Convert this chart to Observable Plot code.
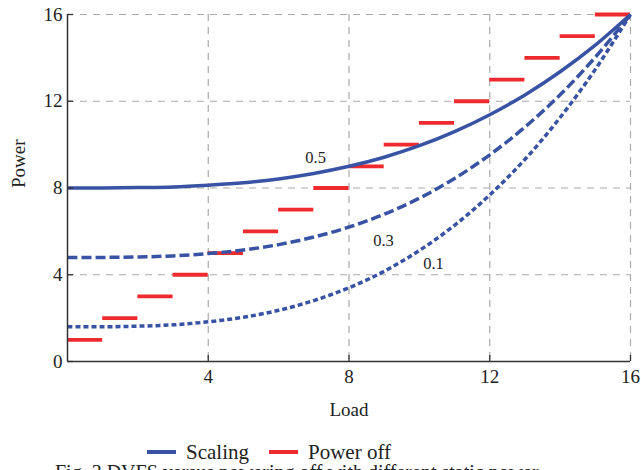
<!DOCTYPE html>
<html>
<head>
<meta charset="utf-8">
<script src="https://cdn.jsdelivr.net/npm/d3@7"></script>
<script src="https://cdn.jsdelivr.net/npm/@observablehq/plot@0.6"></script>
<style>
  html, body { margin: 0; padding: 0; background: #fff; overflow: hidden; }
  #wrap { position: relative; width: 641px; height: 470px; overflow: hidden; font-family: "Liberation Serif", serif; }
  #legend { position: absolute; left: 147px; top: 439px; height: 26px; display: flex; align-items: center; font-size: 21px; line-height: 1; color: #222; }
  .sw { display: inline-block; width: 29px; height: 4px; margin-right: 10px; }
  .item { display: flex; align-items: center; margin-right: 20px; }
  #caption { position: absolute; left: 55px; top: 462px; font-size: 20px; line-height: 1; color: #222; white-space: nowrap; }
</style>
</head>
<body>
<div id="wrap">
  <div id="chart"></div>
  <div id="legend">
    <span class="item"><span class="sw" style="background:#3953a4"></span>Scaling</span>
    <span class="item"><span class="sw" style="background:#ee2a2f"></span>Power off</span>
  </div>
  <div id="caption">Fig. 3 DVFS versus powering off with different static power</div>
</div>
<script>
// Data
const load = [0, 1, 2, 3, 4, 5, 6, 7, 8, 9, 10, 11, 12, 13, 14, 15, 16];
const scaling05 = [8.0, 8.0, 8.02, 8.05, 8.13, 8.24, 8.42, 8.67, 9.0, 9.42, 9.95, 10.6, 11.38, 12.29, 13.36, 14.59, 16.0];
const scaling03 = [4.8, 4.8, 4.82, 4.87, 4.98, 5.14, 5.39, 5.74, 6.2, 6.79, 7.53, 8.44, 9.53, 10.81, 12.3, 14.03, 16.0];
const scaling01 = [1.6, 1.6, 1.63, 1.69, 1.83, 2.04, 2.36, 2.81, 3.4, 4.16, 5.12, 6.28, 7.68, 9.32, 11.25, 13.47, 16.0];
const powerOffStart = [0, 1, 2, 3, 4, 5, 6, 7, 8, 9, 10, 11, 12, 13, 14, 15];
const powerOffEnd   = [1, 2, 3, 4, 5, 6, 7, 8, 9, 10, 11, 12, 13, 14, 15, 16];
const powerOffLevel = [1, 2, 3, 4, 5, 6, 7, 8, 9, 10, 11, 12, 13, 14, 15, 16];
const xTicks = [4, 8, 12, 16];
const yTicks = [0, 4, 8, 12, 16];
const curveLabels = ["0.5", "0.3", "0.1"];
const curveLabelX = [7.05, 8.98, 10.4];
const curveLabelY = [9.4, 5.58, 4.52];

const blue = "#3953a4";
const red = "#ee2a2f";

const series = [
  {values: scaling05, dash: null},
  {values: scaling03, dash: "10,4"},
  {values: scaling01, dash: "5,3"}
];
const offRows = powerOffLevel.map((y, i) => ({x1: powerOffStart[i], x2: powerOffEnd[i], y}));
const labelRows = curveLabels.map((t, i) => ({t, x: curveLabelX[i], y: curveLabelY[i]}));

const W = 641, H = 438, mt = 14, mb = 77, ml = 67, mr = 11;
const innerH = H - mt - mb, innerW = W - ml - mr;
const tickPx = 6;
const tickLenY = tickPx * 16 / innerH;  // inward tick length in data units (derived from scale size)
const tickLenX = tickPx * 16 / innerW;

const marks = [
  Plot.ruleX(xTicks, {x: d => d, stroke: "#aaa", strokeWidth: 1.2, strokeDasharray: "7,6"}),
  Plot.ruleY(yTicks.filter(d => d > 0), {y: d => d, stroke: "#aaa", strokeWidth: 1.2, strokeDasharray: "7,6"}),
  Plot.ruleY(offRows, {y: "y", x1: "x1", x2: "x2", stroke: red, strokeWidth: 3.8, strokeLinecap: "butt"}),
  ...series.map(s => Plot.line(load.map((x, i) => ({x, y: s.values[i]})), {
    x: "x", y: "y", curve: "catmull-rom", stroke: blue, strokeWidth: 3.5,
    strokeDasharray: s.dash, strokeLinecap: "butt"
  })),
  Plot.text(labelRows, {x: "x", y: "y", text: "t", fontSize: 16.5, fill: "#222"}),
  // inward ticks
  Plot.ruleX(xTicks, {x: d => d, y1: 0, y2: tickLenY, stroke: "#333", strokeWidth: 1.3}),
  Plot.ruleY(yTicks, {y: d => d, x1: 0, x2: tickLenX, stroke: "#333", strokeWidth: 1.3}),
  Plot.ruleX([0], {stroke: "#333", strokeWidth: 1.5}),
  Plot.ruleY([0], {stroke: "#333", strokeWidth: 1.5}),
  Plot.axisX(xTicks, {tickSize: 0, tickPadding: 8, fontSize: 19, label: null, fill: "#222"}),
  Plot.axisY(yTicks, {tickSize: 0, tickPadding: 5, fontSize: 19, label: null, fill: "#222"}),
  Plot.text(["Load"], {frameAnchor: "bottom", dy: 54, fontSize: 19, fill: "#222"}),
  Plot.text(["Power"], {frameAnchor: "left", dx: -49, rotate: -90, fontSize: 19, fill: "#222"})
];

const chart = Plot.plot({
  width: W, height: H,
  marginTop: mt, marginBottom: mb, marginLeft: ml, marginRight: mr,
  style: {fontFamily: "Liberation Serif, serif", fontSize: "19px", background: "#fff", color: "#222"},
  x: {domain: [0, 16]},
  y: {domain: [0, 16]},
  marks
});
document.getElementById("chart").appendChild(chart);
</script>
</body>
</html>
